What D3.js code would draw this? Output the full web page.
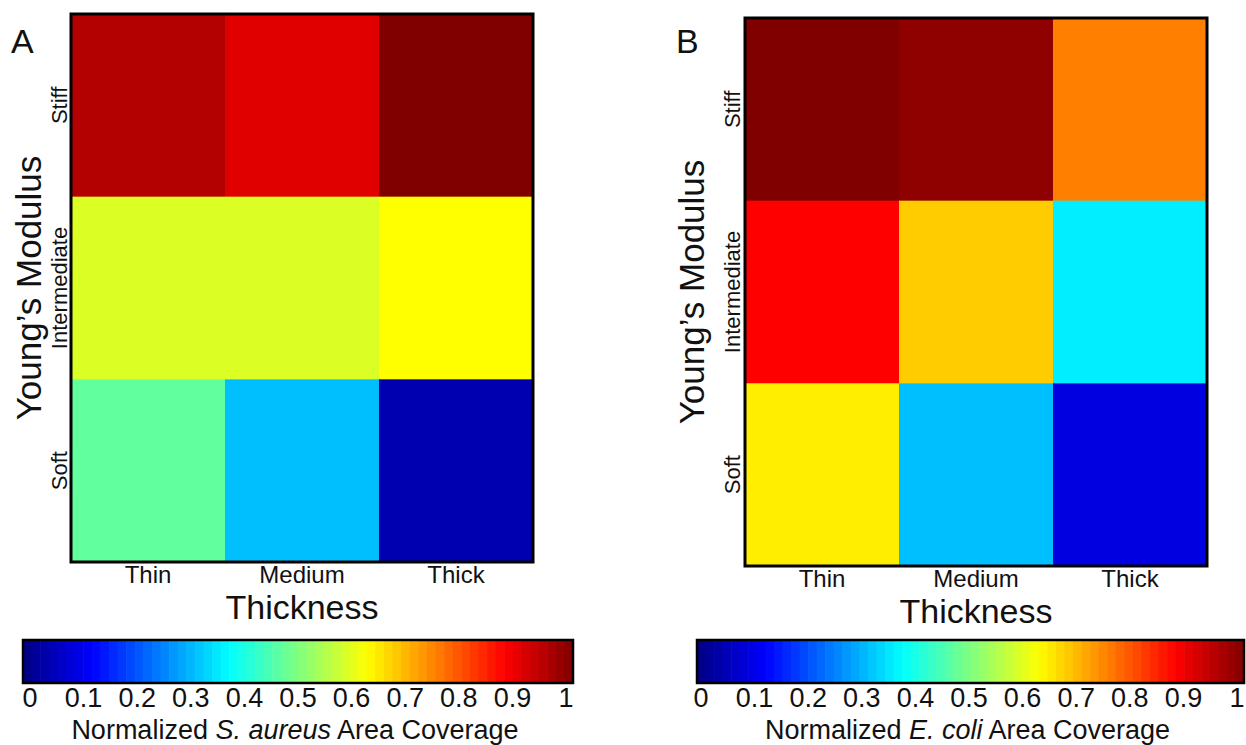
<!DOCTYPE html>
<html>
<head>
<meta charset="utf-8">
<script src="https://cdn.jsdelivr.net/npm/d3@7"></script>
<style>
  body { margin: 0; background: #fff; }
  text { font-family: "Liberation Sans", Arial, sans-serif; fill: #111; }
</style>
</head>
<body>
<div id="chart"></div>
<script>
// data
let thickness = ["Thin", "Medium", "Thick"];
let modulus = ["Stiff", "Intermediate", "Soft"];
// rows: Stiff, Intermediate, Soft; cols: Thin, Medium, Thick
let aureusValues = [
    [0.95, 0.905, 1.0],
    [0.59, 0.59, 0.625],
    [0.47, 0.3125, 0.047]
];
let coliValues = [
    [1.0, 0.985, 0.75],
    [0.875, 0.675, 0.358],
    [0.642, 0.3125, 0.095]
];
let colorTicks = [0, 0.1, 0.2, 0.3, 0.4, 0.5, 0.6, 0.7, 0.8, 0.9, 1];

// jet colormap
let jet = d3.scaleLinear()
    .domain([0, 0.125, 0.375, 0.625, 0.875, 1])
    .range(["#000080", "#0000ff", "#00ffff", "#ffff00", "#ff0000", "#800000"])
    .interpolate(d3.interpolateRgb)
    .clamp(true);

let svg = d3.select("#chart")
    .append("svg")
    .attr("width", 1246)
    .attr("height", 745);

let panels = [
    {letter: "A", values: aureusValues, species: "S. aureus",
     map: {x0: 71, x1: 533, y0: 14, y1: 562}, bar: {x0: 23, x1: 573},
     tickRange: [30, 566], letterX: 11, yTitleX: 41, yTickX: 67},
    {letter: "B", values: coliValues, species: "E. coli",
     map: {x0: 745, x1: 1207, y0: 18, y1: 566}, bar: {x0: 697, x1: 1244},
     tickRange: [701, 1237], letterX: 676, yTitleX: 704, yTickX: 740}
];

panels.forEach(p => {
    let g = svg.append("g");

    let x = d3.scaleBand()
        .domain(thickness)
        .range([p.map.x0, p.map.x1]);

    let y = d3.scaleBand()
        .domain(modulus)
        .range([p.map.y0, p.map.y1]);

    let cells = [];
    modulus.forEach((m, i) => {
        thickness.forEach((t, j) => {
            cells.push({m: m, t: t, v: p.values[i][j]});
        });
    });

    g.selectAll("rect.cell")
        .data(cells)
        .enter()
        .append("rect")
        .attr("class", "cell")
        .attr("x", d => x(d.t))
        .attr("y", d => y(d.m))
        .attr("width", x.bandwidth() + 0.5)
        .attr("height", y.bandwidth() + 0.5)
        .attr("fill", d => jet(d.v));

    g.append("rect")
        .attr("x", p.map.x0)
        .attr("y", p.map.y0)
        .attr("width", p.map.x1 - p.map.x0)
        .attr("height", p.map.y1 - p.map.y0)
        .attr("fill", "none")
        .attr("stroke", "#000")
        .attr("stroke-width", 3);

    // x labels
    g.selectAll("text.xt")
        .data(thickness)
        .enter()
        .append("text")
        .attr("class", "xt")
        .attr("x", d => x(d) + x.bandwidth() / 2)
        .attr("y", p.map.y1 + 21)
        .attr("text-anchor", "middle")
        .attr("font-size", 24)
        .text(d => d);

    g.append("text")
        .attr("x", (p.map.x0 + p.map.x1) / 2)
        .attr("y", p.map.y1 + 57)
        .attr("text-anchor", "middle")
        .attr("font-size", 34)
        .text("Thickness");

    // y labels
    g.selectAll("text.yt")
        .data(modulus)
        .enter()
        .append("text")
        .attr("class", "yt")
        .attr("transform", d => "translate(" + p.yTickX + "," + (y(d) + y.bandwidth() / 2) + ") rotate(-90)")
        .attr("text-anchor", "middle")
        .attr("font-size", 22)
        .text(d => d);

    g.append("text")
        .attr("transform", "translate(" + p.yTitleX + "," + ((p.map.y0 + p.map.y1) / 2) + ") rotate(-90)")
        .attr("text-anchor", "middle")
        .attr("font-size", 35)
        .text("Young\u2019s Modulus");

    g.append("text")
        .attr("x", p.letterX)
        .attr("y", 53)
        .attr("font-size", 34)
        .text(p.letter);

    // colorbar
    let n = 64;
    let levels = d3.range(n).map(i => (i + 0.5) / n);
    let cb = d3.scaleLinear()
        .domain([0, 1])
        .range([p.bar.x0, p.bar.x1]);

    g.selectAll("rect.lvl")
        .data(levels)
        .enter()
        .append("rect")
        .attr("class", "lvl")
        .attr("x", d => cb(d - 0.5 / n))
        .attr("y", 640)
        .attr("width", (p.bar.x1 - p.bar.x0) / n + 0.6)
        .attr("height", 43)
        .attr("fill", d => jet(d));

    g.append("rect")
        .attr("x", p.bar.x0)
        .attr("y", 640)
        .attr("width", p.bar.x1 - p.bar.x0)
        .attr("height", 43)
        .attr("fill", "none")
        .attr("stroke", "#000")
        .attr("stroke-width", 2.5);

    let tickScale = d3.scaleLinear()
        .domain([0, 1])
        .range(p.tickRange);

    g.selectAll("text.ct")
        .data(colorTicks)
        .enter()
        .append("text")
        .attr("class", "ct")
        .attr("x", d => tickScale(d))
        .attr("y", 707)
        .attr("text-anchor", "middle")
        .attr("font-size", 27)
        .text(d => d);

    let title = g.append("text")
        .attr("x", (p.bar.x0 + p.bar.x1) / 2 - 3)
        .attr("y", 739)
        .attr("text-anchor", "middle")
        .attr("font-size", 27)
        .text("Normalized ");
    title.append("tspan").attr("font-style", "italic").text(p.species);
    title.append("tspan").text(" Area Coverage");
});
</script>
</body>
</html>
